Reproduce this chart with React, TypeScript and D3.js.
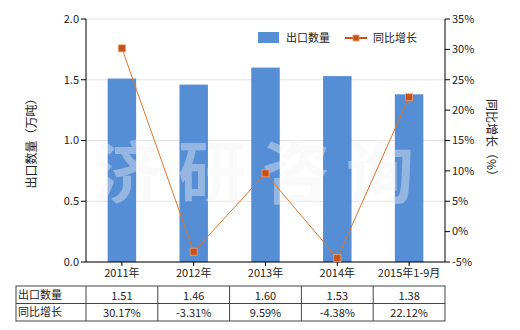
import React from "react";
import * as d3 from "d3";

const categories = ["2011年", "2012年", "2013年", "2014年", "2015年1-9月"];
const exportQty = [1.51, 1.46, 1.6, 1.53, 1.38];
const yoyGrowth = [30.17, -3.31, 9.59, -4.38, 22.12];
const qtyLabels = ["1.51", "1.46", "1.60", "1.53", "1.38"];
const growthLabels = ["30.17%", "-3.31%", "9.59%", "-4.38%", "22.12%"];
const leftTicks = [0, 0.5, 1.0, 1.5, 2.0];
const rightTicks = [-5, 0, 5, 10, 15, 20, 25, 30, 35];

const W = 520, H = 330;
const FONT = "'Noto Sans CJK SC', 'Noto Sans', sans-serif";

export default function App() {
  const left = 86, right = 445, top = 19, bottom = 262;
  const x = d3.scaleBand<string>().domain(categories).range([left, right]);
  const yL = d3.scaleLinear().domain([0, 2]).range([bottom, top]);
  const yR = d3.scaleLinear().domain([-5, 35]).range([bottom, top]);
  const bw = 28.5;
  const cx = (c: string) => (x(c) as number) + x.bandwidth() / 2;
  const line = d3.line<number>().x((_, i) => cx(categories[i])).y((d) => yR(d));

  const tTop = 286, tMid = 303.5, tBot = 321, tLeft = 16;
  const colEdges = [tLeft, left, ...categories.map((c) => (x(c) as number) + x.bandwidth())];

  return (
    <svg width={W} height={H} style={{ position: "absolute", left: 0, top: 0, fontFamily: FONT }}>
      <rect x={0} y={0} width={W} height={H} fill="#fff" />
      {leftTicks.map((t) => (
        <line key={t} x1={left} x2={right} y1={yL(t)} y2={yL(t)} stroke="#e4e4e4" strokeWidth={1} />
      ))}
      {categories.map((c, i) => (
        <rect key={c} x={cx(c) - bw / 2} y={yL(exportQty[i])} width={bw} height={bottom - yL(exportQty[i])} fill="#558ed5" />
      ))}
      {/* watermark */}
      <text x={262} y={198} textAnchor="middle" fontSize={68} fontWeight="bold" fill="#f2f2f2" fillOpacity={0.4} letterSpacing={16} fontFamily={FONT}>济研咨询</text>
      {/* left axis */}
      <line x1={left} x2={left} y1={top} y2={bottom} stroke="#000" />
      {leftTicks.map((t) => (
        <g key={t}>
          <line x1={left - 5} x2={left} y1={yL(t)} y2={yL(t)} stroke="#000" />
          <text x={left - 7} y={yL(t)} dy="0.35em" textAnchor="end" fontSize={11} fill="#222">{t.toFixed(1)}</text>
        </g>
      ))}
      {/* right axis */}
      <line x1={right} x2={right} y1={top} y2={bottom} stroke="#000" />
      {rightTicks.map((t) => (
        <g key={t}>
          <line x1={right} x2={right + 5} y1={yR(t)} y2={yR(t)} stroke="#000" />
          <text x={right + 7} y={yR(t)} dy="0.35em" textAnchor="start" fontSize={11} fill="#222">{t}%</text>
        </g>
      ))}
      {/* bottom axis */}
      <line x1={left} x2={right} y1={bottom} y2={bottom} stroke="#000" />
      {categories.map((c) => (
        <g key={c}>
          <line x1={cx(c)} x2={cx(c)} y1={bottom} y2={bottom + 4} stroke="#000" />
          <text x={cx(c)} y={273} dy="0.35em" textAnchor="middle" fontSize={11} fill="#222">{c}</text>
        </g>
      ))}
      {/* line series */}
      <path d={line(yoyGrowth) || ""} fill="none" stroke="#e0742a" strokeWidth={1} />
      {yoyGrowth.map((v, i) => (
        <rect key={i} x={cx(categories[i]) - 3.5} y={yR(v) - 3.5} width={7} height={7} fill="#c8501a" stroke="#f0a070" strokeWidth={0.8} />
      ))}
      {/* axis titles */}
      <text transform={`translate(32,${(top + bottom) / 2}) rotate(-90)`} textAnchor="middle" dy="0.35em" fontSize={12} fill="#222">出口数量（万吨）</text>
      <text transform={`translate(491,${(top + bottom) / 2}) rotate(90)`} textAnchor="middle" dy="0.35em" fontSize={12} fill="#222">同比增长（%）</text>
      {/* legend */}
      <rect x={258} y={32} width={21} height={11} fill="#558ed5" />
      <text x={286} y={38} dy="0.35em" fontSize={11} fill="#222">出口数量</text>
      <line x1={345} x2={367} y1={38} y2={38} stroke="#c8501a" strokeWidth={2} />
      <rect x={353} y={35} width={6} height={6} fill="#c8501a" stroke="#f0a070" strokeWidth={0.8} />
      <text x={373} y={38} dy="0.35em" fontSize={11} fill="#222">同比增长</text>
      {/* table */}
      <g stroke="#444" strokeWidth={1} fill="none">
        <rect x={tLeft} y={tTop} width={right - tLeft} height={tBot - tTop} />
        <line x1={tLeft} x2={right} y1={tMid} y2={tMid} />
        {colEdges.slice(1, -1).map((e, i) => (
          <line key={i} x1={e} x2={e} y1={tTop} y2={tBot} />
        ))}
      </g>
      <text x={tLeft + 2} y={(tTop + tMid) / 2} dy="0.35em" fontSize={11} fill="#222">出口数量</text>
      <text x={tLeft + 2} y={(tMid + tBot) / 2} dy="0.35em" fontSize={11} fill="#222">同比增长</text>
      {categories.map((c, i) => (
        <g key={c}>
          <text x={cx(c)} y={(tTop + tMid) / 2 + 1} dy="0.35em" textAnchor="middle" fontSize={11} fill="#222">{qtyLabels[i]}</text>
          <text x={cx(c)} y={(tMid + tBot) / 2 + 1} dy="0.35em" textAnchor="middle" fontSize={11} fill="#222">{growthLabels[i]}</text>
        </g>
      ))}
    </svg>
  );
}
